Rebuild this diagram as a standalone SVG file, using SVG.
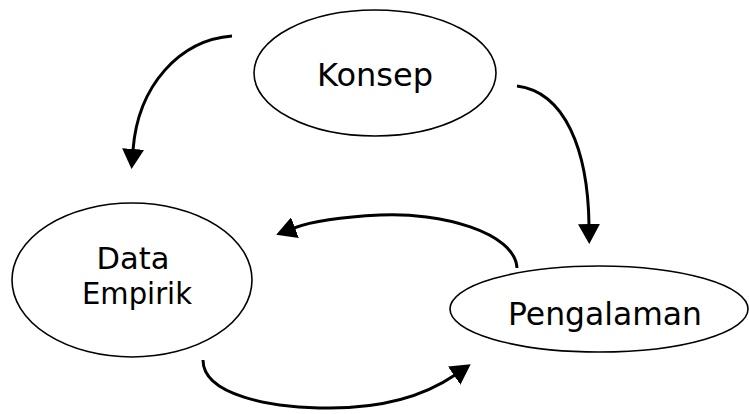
<svg xmlns="http://www.w3.org/2000/svg" width="749" height="414" viewBox="0 0 749 414">
  <style>
    .node { fill: #ffffff; stroke: #000000; stroke-width: 1.6; }
    .label { font-family: "DejaVu Sans", "Open Sans", sans-serif; font-size: 32px; fill: #000000; text-anchor: middle; }
    .small { font-size: 30px; }
    .edge { fill: none; stroke: #000000; stroke-width: 3; marker-end: url(#head); }
  </style>
  <defs>
    <marker id="head" viewBox="0 0 20 22" refX="1" refY="11" markerWidth="20" markerHeight="22" markerUnits="userSpaceOnUse" orient="auto">
      <path d="M0,0 L20,11 L0,22 z" fill="#000000"/>
    </marker>
  </defs>
  <rect width="749" height="414" fill="#ffffff"/>

  <g id="konsep">
    <ellipse class="node" cx="375" cy="73" rx="121" ry="63"/>
    <text class="label" x="375" y="86" textLength="116" lengthAdjust="spacingAndGlyphs">Konsep</text>
  </g>

  <g id="data-empirik">
    <ellipse class="node" cx="132" cy="280" rx="120" ry="77"/>
    <text class="label small" x="133" y="269" textLength="73" lengthAdjust="spacingAndGlyphs">Data</text>
    <text class="label small" x="137" y="304" textLength="110" lengthAdjust="spacingAndGlyphs">Empirik</text>
  </g>

  <g id="pengalaman">
    <ellipse class="node" cx="599" cy="309" rx="149" ry="43"/>
    <text class="label" x="605" y="325" textLength="194" lengthAdjust="spacingAndGlyphs">Pengalaman</text>
  </g>

  <g id="connectors">
    <path class="edge" d="M232,36 C180,40 138,85 133,150"/>
    <path class="edge" d="M517,86 C565,92 588,150 589,225"/>
    <path class="edge" d="M517,268 C515,232 440,212 380,215 C340,217 310,222 294,228"/>
    <path class="edge" d="M203,360 C203,395 270,408 330,408 C390,408 430,392 455,375"/>
  </g>
</svg>
